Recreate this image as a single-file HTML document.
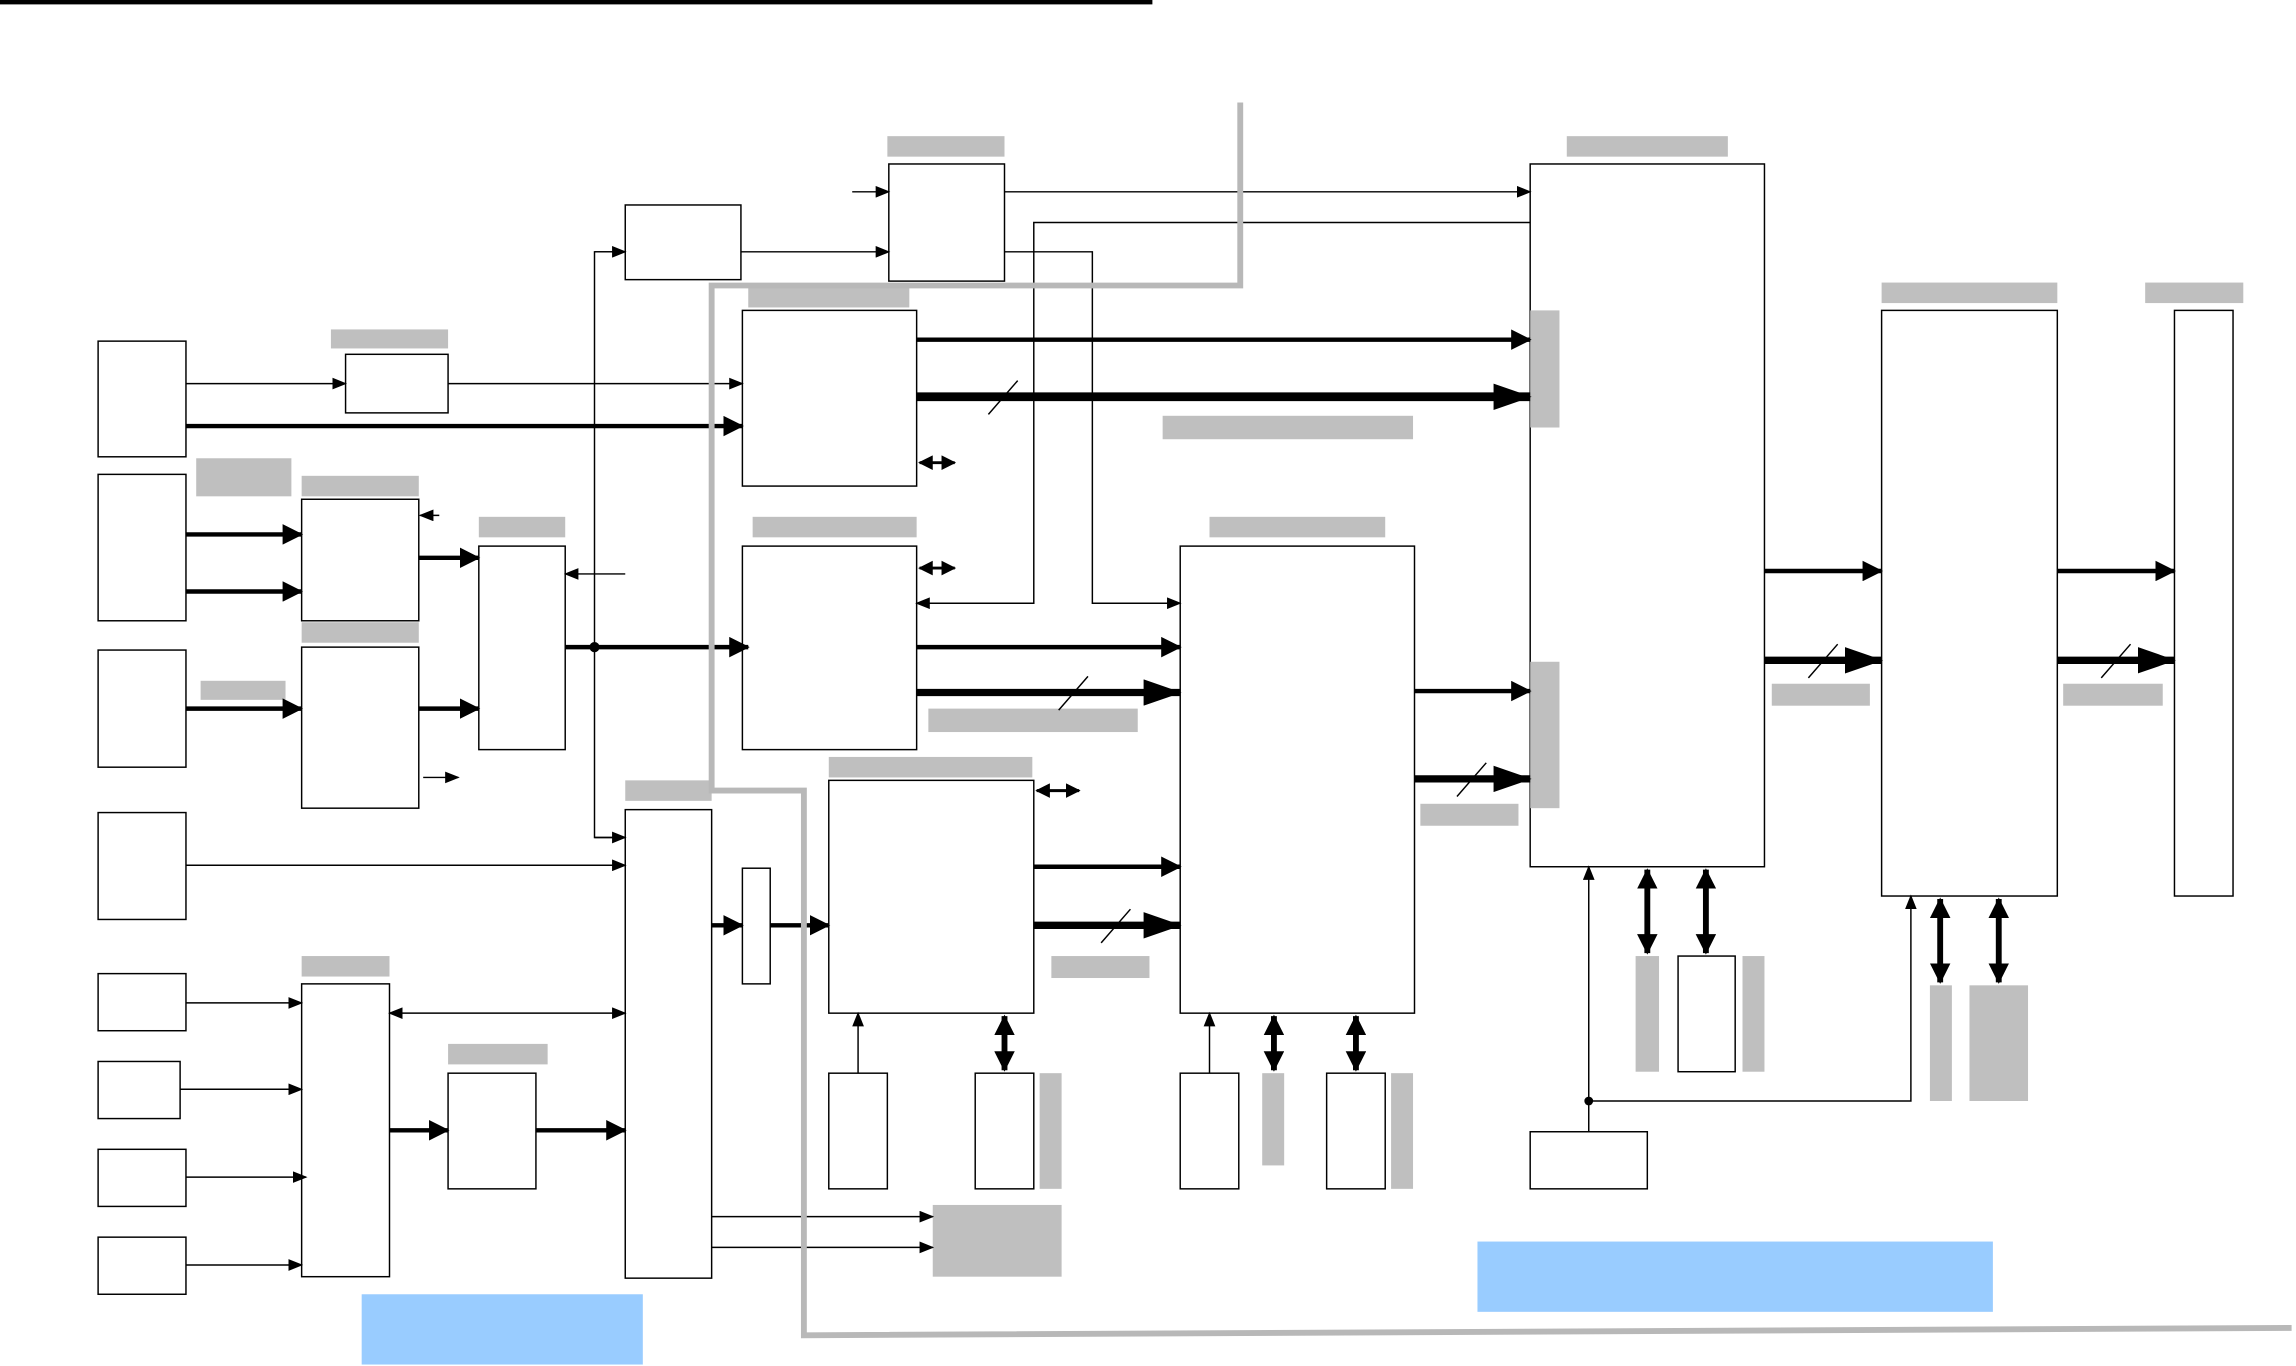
<!DOCTYPE html>
<html><head><meta charset="utf-8"><style>
html,body{margin:0;padding:0;background:#fff;}
svg{display:block;}
</style></head><body>
<svg width="2296" height="1366" viewBox="0 0 1568 933" preserveAspectRatio="none" xmlns="http://www.w3.org/2000/svg">
<defs>
<marker id="at" markerWidth="10" markerHeight="8" refX="9" refY="4" orient="auto" markerUnits="userSpaceOnUse"><path d="M0,0 L10,4 L0,8 z" fill="#000"/></marker>
<marker id="ats" markerWidth="10" markerHeight="8" refX="1" refY="4" orient="auto" markerUnits="userSpaceOnUse"><path d="M10,0 L0,4 L10,8 z" fill="#000"/></marker>
<marker id="am" markerWidth="14" markerHeight="14" refX="13" refY="7" orient="auto" markerUnits="userSpaceOnUse"><path d="M0,0 L14,7 L0,14 z" fill="#000"/></marker>
<marker id="ams" markerWidth="14" markerHeight="14" refX="1" refY="7" orient="auto" markerUnits="userSpaceOnUse"><path d="M14,0 L0,7 L14,14 z" fill="#000"/></marker>
<marker id="ab" markerWidth="26" markerHeight="18" refX="25" refY="9" orient="auto" markerUnits="userSpaceOnUse"><path d="M0,0 L26,9 L0,18 z" fill="#000"/></marker>
<marker id="sm" markerWidth="10" markerHeight="10" refX="9" refY="5" orient="auto" markerUnits="userSpaceOnUse"><path d="M0,0 L10,5 L0,10 z" fill="#000"/></marker>
<marker id="sms" markerWidth="10" markerHeight="10" refX="1" refY="5" orient="auto" markerUnits="userSpaceOnUse"><path d="M10,0 L0,5 L10,10 z" fill="#000"/></marker>
</defs>
<rect x="0" y="0" width="787" height="3" fill="#000"/>

<!-- gray labels / bars -->
<g fill="#bfbfbf">
<rect x="226" y="225" width="80" height="13"/>
<rect x="134" y="313" width="65" height="26"/>
<rect x="206" y="325" width="80" height="14"/>
<rect x="206" y="425" width="80" height="14"/>
<rect x="137" y="465" width="58" height="13"/>
<rect x="327" y="353" width="59" height="14"/>
<rect x="606" y="93" width="80" height="14"/>
<rect x="511" y="196" width="110" height="14"/>
<rect x="514" y="353" width="112" height="14"/>
<rect x="427" y="533" width="59" height="14"/>
<rect x="566" y="517" width="139" height="14"/>
<rect x="826" y="353" width="120" height="14"/>
<rect x="1070" y="93" width="110" height="14"/>
<rect x="1045" y="212" width="20" height="80"/>
<rect x="1045" y="452" width="20" height="100"/>
<rect x="1285" y="193" width="120" height="14"/>
<rect x="1465" y="193" width="67" height="14"/>
<rect x="206" y="653" width="60" height="14"/>
<rect x="306" y="713" width="68" height="14"/>
<rect x="637" y="823" width="88" height="49"/>
<rect x="710" y="733" width="15" height="79"/>
<rect x="862" y="733" width="15" height="63"/>
<rect x="950" y="733" width="15" height="79"/>
<rect x="1117" y="653" width="16" height="79"/>
<rect x="1190" y="653" width="15" height="79"/>
<rect x="1318" y="673" width="15" height="79"/>
<rect x="1345" y="673" width="40" height="79"/>
<rect x="794" y="284" width="171" height="16"/>
<rect x="634" y="484" width="143" height="16"/>
<rect x="718" y="653" width="67" height="15"/>
<rect x="970" y="549" width="67" height="15"/>
<rect x="1210" y="467" width="67" height="15"/>
<rect x="1409" y="467" width="68" height="15"/>
</g>
<rect x="247" y="884" width="192" height="48" fill="#99ccff"/>
<rect x="1009" y="848" width="352" height="48" fill="#99ccff"/>

<!-- boxes -->
<g fill="#fff" stroke="#000" stroke-width="1">
<rect x="67" y="233" width="60" height="79"/>
<rect x="67" y="324" width="60" height="100"/>
<rect x="67" y="444" width="60" height="80"/>
<rect x="67" y="555" width="60" height="73"/>
<rect x="67" y="665" width="60" height="39"/>
<rect x="67" y="725" width="56" height="39"/>
<rect x="67" y="785" width="60" height="39"/>
<rect x="67" y="845" width="60" height="39"/>
<rect x="236" y="242" width="70" height="40"/>
<rect x="206" y="341" width="80" height="83"/>
<rect x="206" y="442" width="80" height="110"/>
<rect x="327" y="373" width="59" height="139"/>
<rect x="427" y="140" width="79" height="51"/>
<rect x="607" y="112" width="79" height="80"/>
<rect x="507" y="212" width="119" height="120"/>
<rect x="507" y="373" width="119" height="139"/>
<rect x="427" y="553" width="59" height="320"/>
<rect x="507" y="593" width="19" height="79"/>
<rect x="566" y="533" width="140" height="159"/>
<rect x="806" y="373" width="160" height="319"/>
<rect x="1045" y="112" width="160" height="480"/>
<rect x="1285" y="212" width="120" height="400"/>
<rect x="1485" y="212" width="40" height="400"/>
<rect x="206" y="672" width="60" height="200"/>
<rect x="306" y="733" width="60" height="79"/>
<rect x="566" y="733" width="40" height="79"/>
<rect x="666" y="733" width="40" height="79"/>
<rect x="806" y="733" width="40" height="79"/>
<rect x="906" y="733" width="40" height="79"/>
<rect x="1146" y="653" width="39" height="79"/>
<rect x="1045" y="773" width="80" height="39"/>
</g>
<!-- re-draw gray bars over K1 edge -->
<rect x="1045" y="212" width="20" height="80" fill="#bfbfbf"/>
<rect x="1045" y="452" width="20" height="100" fill="#bfbfbf"/>

<!-- thin connectors -->
<g stroke="#000" stroke-width="1" fill="none">
<line x1="127" y1="262" x2="236" y2="262" marker-end="url(#at)"/>
<line x1="306" y1="262" x2="507" y2="262" marker-end="url(#at)"/>
<line x1="300" y1="352" x2="287" y2="352" marker-end="url(#at)"/>
<line x1="289" y1="531" x2="313" y2="531" marker-end="url(#at)"/>
<line x1="427" y1="392" x2="386" y2="392" marker-end="url(#at)"/>
<polyline points="427,172 406,172 406,572 427,572" />
<line x1="406" y1="172" x2="427" y2="172" marker-end="url(#at)"/>
<line x1="406" y1="572" x2="427" y2="572" marker-end="url(#at)"/>
<line x1="127" y1="591" x2="427" y2="591" marker-end="url(#at)"/>
<line x1="506" y1="172" x2="607" y2="172" marker-end="url(#at)"/>
<line x1="582" y1="131" x2="607" y2="131" marker-end="url(#at)"/>
<line x1="686" y1="131" x2="1045" y2="131" marker-end="url(#at)"/>
<polyline points="1045,152 706,152 706,412 626,412" marker-end="url(#at)"/>
<polyline points="686,172 746,172 746,412 806,412" marker-end="url(#at)"/>
<line x1="266" y1="692" x2="427" y2="692" marker-start="url(#ats)" marker-end="url(#at)"/>
<line x1="127" y1="685" x2="206" y2="685" marker-end="url(#at)"/>
<line x1="123" y1="744" x2="206" y2="744" marker-end="url(#at)"/>
<line x1="127" y1="804" x2="209" y2="804" marker-end="url(#at)"/>
<line x1="127" y1="864" x2="206" y2="864" marker-end="url(#at)"/>
<line x1="486" y1="831" x2="637" y2="831" marker-end="url(#at)"/>
<line x1="486" y1="852" x2="637" y2="852" marker-end="url(#at)"/>
<line x1="586" y1="733" x2="586" y2="692" marker-end="url(#at)"/>
<line x1="826" y1="733" x2="826" y2="692" marker-end="url(#at)"/>
<line x1="1085" y1="773" x2="1085" y2="592" marker-end="url(#at)"/>
<polyline points="1085,752 1305,752 1305,612" marker-end="url(#at)"/>
<line x1="628" y1="316" x2="652" y2="316" stroke-width="2" marker-start="url(#sms)" marker-end="url(#sm)"/>
<line x1="628" y1="388" x2="652" y2="388" stroke-width="2" marker-start="url(#sms)" marker-end="url(#sm)"/>
<line x1="708" y1="540" x2="737" y2="540" stroke-width="2" marker-start="url(#sms)" marker-end="url(#sm)"/>
</g>
<circle cx="1085" cy="752" r="3" fill="#000"/>
<circle cx="406" cy="442" r="3.5" fill="#000"/>

<!-- medium connectors -->
<g stroke="#000" stroke-width="3" fill="none">
<line x1="127" y1="291" x2="507" y2="291" marker-end="url(#am)"/>
<line x1="127" y1="365" x2="206" y2="365" marker-end="url(#am)"/>
<line x1="127" y1="404" x2="206" y2="404" marker-end="url(#am)"/>
<line x1="286" y1="381" x2="327" y2="381" marker-end="url(#am)"/>
<line x1="127" y1="484" x2="206" y2="484" marker-end="url(#am)"/>
<line x1="286" y1="484" x2="327" y2="484" marker-end="url(#am)"/>
<line x1="386" y1="442" x2="511" y2="442" marker-end="url(#am)"/>
<line x1="626" y1="232" x2="1045" y2="232" marker-end="url(#am)"/>
<line x1="626" y1="442" x2="806" y2="442" marker-end="url(#am)"/>
<line x1="486" y1="632" x2="507" y2="632" marker-end="url(#am)"/>
<line x1="526" y1="632" x2="566" y2="632" marker-end="url(#am)"/>
<line x1="706" y1="592" x2="806" y2="592" marker-end="url(#am)"/>
<line x1="966" y1="472" x2="1045" y2="472" marker-end="url(#am)"/>
<line x1="1205" y1="390" x2="1285" y2="390" marker-end="url(#am)"/>
<line x1="1405" y1="390" x2="1485" y2="390" marker-end="url(#am)"/>
<line x1="266" y1="772" x2="306" y2="772" marker-end="url(#am)"/>
<line x1="366" y1="772" x2="427" y2="772" marker-end="url(#am)"/>
<line x1="686" y1="694" x2="686" y2="731" stroke-width="4" marker-start="url(#ams)" marker-end="url(#am)"/>
<line x1="870" y1="694" x2="870" y2="731" stroke-width="4" marker-start="url(#ams)" marker-end="url(#am)"/>
<line x1="926" y1="694" x2="926" y2="731" stroke-width="4" marker-start="url(#ams)" marker-end="url(#am)"/>
<line x1="1125" y1="594" x2="1125" y2="651" stroke-width="4" marker-start="url(#ams)" marker-end="url(#am)"/>
<line x1="1165" y1="594" x2="1165" y2="651" stroke-width="4" marker-start="url(#ams)" marker-end="url(#am)"/>
<line x1="1325" y1="614" x2="1325" y2="671" stroke-width="4" marker-start="url(#ams)" marker-end="url(#am)"/>
<line x1="1365" y1="614" x2="1365" y2="671" stroke-width="4" marker-start="url(#ams)" marker-end="url(#am)"/>
</g>

<!-- thick connectors -->
<g stroke="#000" stroke-width="5" fill="none">
<line x1="626" y1="271" x2="1045" y2="271" stroke-width="6" marker-end="url(#ab)"/>
<line x1="626" y1="473" x2="806" y2="473" marker-end="url(#ab)"/>
<line x1="706" y1="632" x2="806" y2="632" marker-end="url(#ab)"/>
<line x1="966" y1="532" x2="1045" y2="532" marker-end="url(#ab)"/>
<line x1="1205" y1="451" x2="1285" y2="451" marker-end="url(#ab)"/>
<line x1="1405" y1="451" x2="1485" y2="451" marker-end="url(#ab)"/>
</g>
<g stroke="#000" stroke-width="1">
<line x1="675" y1="283" x2="695" y2="260"/>
<line x1="723" y1="485" x2="743" y2="462"/>
<line x1="752" y1="644" x2="772" y2="621"/>
<line x1="995" y1="544" x2="1015" y2="521"/>
<line x1="1235" y1="463" x2="1255" y2="440"/>
<line x1="1435" y1="463" x2="1455" y2="440"/>
</g>

<!-- gray thick path -->
<polyline points="847,70 847,195 486,195 486,540 549,540 549,912 1565,907" fill="none" stroke="#b8b8b8" stroke-width="4"/>
</svg>
</body></html>
